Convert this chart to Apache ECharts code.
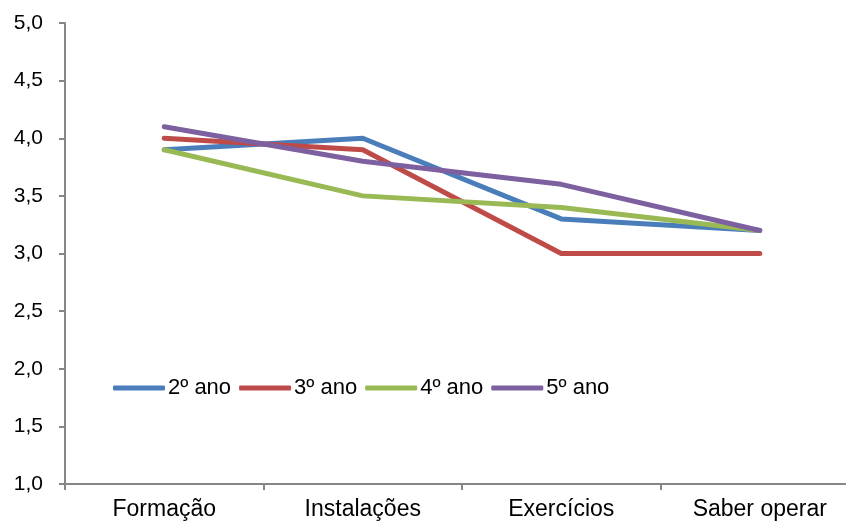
<!DOCTYPE html>
<html>
<head>
<meta charset="utf-8">
<script src="https://cdn.jsdelivr.net/npm/echarts@6/dist/echarts.min.js"></script>
<style>
  html, body { margin: 0; padding: 0; background: #fff; }
  #chart { width: 846px; height: 524px; }
</style>
</head>
<body>
<div id="chart"></div>
<script>
// Categories and per-year scores
const categories = ['Formação', 'Instalações', 'Exercícios', 'Saber operar'];
const seriesNames = ['2º ano', '3º ano', '4º ano', '5º ano'];
const ano2 = [3.9, 4.0, 3.3, 3.2];
const ano3 = [4.0, 3.9, 3.0, 3.0];
const ano4 = [3.9, 3.5, 3.4, 3.2];
const ano5 = [4.1, 3.8, 3.6, 3.2];
const colors = ['#4A7EBB', '#BE4B48', '#98B954', '#7D60A0'];

const font = 'Liberation Sans, Arial, sans-serif';
const chart = echarts.init(document.getElementById('chart'), null, { renderer: 'canvas' });

const values = [ano2, ano3, ano4, ano5];
chart.setOption({
  animation: false,
  backgroundColor: '#ffffff',
  color: colors,
  // plot area runs a little past the right edge of the canvas
  grid: { left: 65, top: 23, width: 794, height: 461, containLabel: false, outerBoundsMode: 'none' },
  legend: {
    left: 113,
    top: 377,
    padding: 0,
    icon: 'roundRect',
    itemWidth: 52,
    itemHeight: 5,
    itemGap: 8,
    textStyle: { fontFamily: font, fontSize: 22, color: '#000', padding: [0, 0, 0, -2] },
    data: seriesNames
  },
  xAxis: {
    type: 'category',
    data: categories,
    boundaryGap: true,
    axisLine: { lineStyle: { color: '#868686', width: 2 } },
    axisTick: { show: true, length: 6, inside: false, alignWithLabel: false, lineStyle: { color: '#868686', width: 2 } },
    axisLabel: { fontFamily: font, fontSize: 23, color: '#000', margin: 14, interval: 0 },
    splitLine: { show: false }
  },
  yAxis: {
    type: 'value',
    min: 1,
    max: 5,
    interval: 0.5,
    axisLine: { show: true, lineStyle: { color: '#868686', width: 2 } },
    axisTick: { show: true, length: 6, lineStyle: { color: '#868686', width: 2 } },
    axisLabel: {
      fontFamily: font, fontSize: 21, color: '#000', margin: 22,
      formatter: v => v.toFixed(1).replace('.', ',')
    },
    splitLine: { show: false }
  },
  series: seriesNames.map((name, i) => ({
    name,
    type: 'line',
    data: values[i],
    symbol: 'none',
    lineStyle: { width: 5, color: colors[i], cap: 'round', join: 'round' },
    itemStyle: { color: colors[i] }
  }))
});
</script>
</body>
</html>
